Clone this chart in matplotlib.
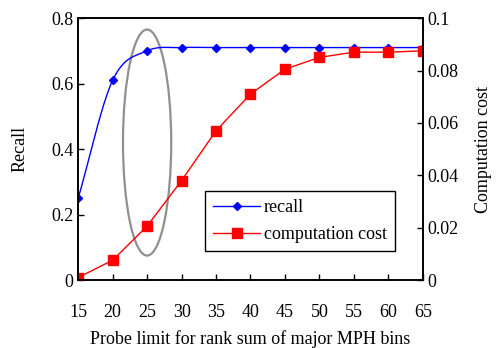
import numpy as np
import matplotlib
matplotlib.use("Agg")
import matplotlib.pyplot as plt
from matplotlib.patches import Ellipse

probe_limit = [15, 20, 25, 30, 35, 40, 45, 50, 55, 60, 65]
recall = [0.25, 0.61, 0.70, 0.71, 0.71, 0.71, 0.71, 0.71, 0.71, 0.71, 0.71]
comp_cost = [0.001, 0.0076, 0.0206, 0.038, 0.057, 0.071, 0.0805, 0.085, 0.087, 0.087, 0.0875]

plt.rcParams['font.family'] = ['Liberation Serif', 'DejaVu Serif']
plt.rcParams['font.size'] = 13


def smooth(x, y, n=20):
    # Catmull-Rom style smoothing for the line drawing
    x = np.asarray(x, float); y = np.asarray(y, float)
    px = np.concatenate([[2*x[0]-x[1]], x, [2*x[-1]-x[-2]]])
    py = np.concatenate([[2*y[0]-y[1]], y, [2*y[-1]-y[-2]]])
    xs, ys = [], []
    for i in range(1, len(px)-2):
        t = np.linspace(0, 1, n, endpoint=False)
        for P, out in ((px, xs), (py, ys)):
            p0, p1, p2, p3 = P[i-1], P[i], P[i+1], P[i+2]
            out.extend(0.5*((2*p1) + (-p0+p2)*t + (2*p0-5*p1+4*p2-p3)*t**2 + (-p0+3*p1-3*p2+p3)*t**3))
    xs.append(x[-1]); ys.append(y[-1])
    return np.array(xs), np.array(ys)


fig = plt.figure(figsize=(4.98, 3.48), dpi=100)
ax = fig.add_axes([0.157, 0.195, 0.692, 0.753])
ax2 = ax.twinx()

sx, sy = smooth(probe_limit, recall)
ax.plot(sx, sy, color='blue', lw=1)
ax.plot(probe_limit, recall, ls='none', marker='D', color='blue', ms=4.5)
l1, = ax.plot([], [], color='blue', lw=1, marker='D', ms=4.5, label='recall')

l2, = ax2.plot(probe_limit, comp_cost, color='red', lw=1, marker='s', ms=7, label='computation cost')

ax.add_patch(Ellipse((25, 0.42), 7.0, 0.69, fill=False, edgecolor='#909090', lw=1.6))

ax.set_xlim(15, 65)
ax.set_ylim(0, 0.8)
ax2.set_ylim(0, 0.1)
ax.set_xticks(probe_limit)
ax.set_yticks([0, 0.2, 0.4, 0.6, 0.8])
ax.set_yticklabels(['0', '0.2', '0.4', '0.6', '0.8'])
ax2.set_yticks([0, 0.02, 0.04, 0.06, 0.08, 0.1])
ax2.set_yticklabels(['0', '0.02', '0.04', '0.06', '0.08', '0.1'])

for a in (ax, ax2):
    a.tick_params(direction='in', length=4, width=1, labelsize=13)
    for s in a.spines.values():
        s.set_linewidth(1.2)
ax.tick_params(axis='x', pad=17)

ax.set_xlabel('Probe limit for rank sum of major MPH bins', fontsize=13, labelpad=7)
ax.set_ylabel('Recall', fontsize=13, labelpad=16)
ax2.set_ylabel('Computation cost', fontsize=13, labelpad=12)

leg = ax.legend(handles=[l1, l2], loc='upper left', bbox_to_anchor=(0.368, 0.34),
                fancybox=False, edgecolor='black', framealpha=1, fontsize=13,
                handlelength=2.6, handletextpad=0.2, borderpad=0.45, labelspacing=0.55,
                borderaxespad=0)
leg.get_frame().set_linewidth(1.0)

fig.savefig('out.png', dpi=100)
